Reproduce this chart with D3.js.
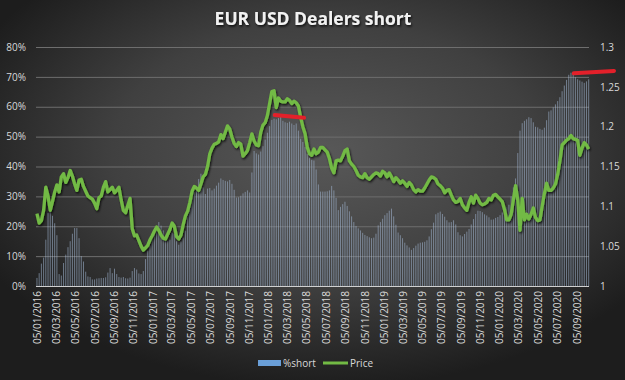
<!DOCTYPE html>
<html>
<head>
<meta charset="utf-8">
<script src="https://cdn.jsdelivr.net/npm/d3@7"></script>
<style>
  html, body { margin: 0; padding: 0; background: #262626; }
  svg { display: block; }
  text { font-family: "Open Sans", "Noto Sans", sans-serif; }
</style>
</head>
<body>
<div id="chart"></div>
<script>
// Weekly COT readings, first one on Tuesday 05/01/2016
const firstWeek = '2016-01-05';

// Dealers short, in % of open interest
const pctShort = [
  2.7, 4.3, 7.5, 9.5, 15.5, 24.4, 24.9, 23.5, 21, 17,
  4, 3.5, 7.7, 10.5, 13, 15, 17.5, 19.4, 19.4, 16,
  10, 8.2, 4.8, 3.2, 3, 2.2, 2.2, 2.5, 2.6, 2.7,
  2.7, 2.9, 4.5, 6, 4.3, 5.8, 4, 3, 2.8, 3,
  2.6, 2.5, 2.8, 5, 6, 5.5, 4.2, 4, 5, 9,
  11.8, 13.5, 15.8, 17.8, 19.8, 21.4, 20.2, 18.6, 16.8, 15,
  15.5, 17.8, 17.5, 15, 13.8, 14.9, 16.2, 18.5, 24.6, 26.5,
  29.6, 31.6, 33.5, 35.8, 37.6, 33, 30.8, 32.6, 32.8, 32,
  32.6, 33.6, 34.6, 36, 35.5, 35.2, 35, 35.5, 34.2, 32.2,
  29.6, 29.7, 30.2, 31, 31.5, 32, 31.3, 38, 45.2, 44.4,
  44, 45, 46.8, 49, 51.3, 53.5, 55.6, 56, 55.8, 56.2,
  56.8, 55.3, 54.8, 54.6, 55, 54.4, 53.9, 54.4, 52, 49.3,
  48.2, 46.5, 44.2, 42.9, 42.2, 42, 39, 34, 31.6, 31.6,
  31.6, 31.7, 32, 33.5, 32, 29.5, 25.4, 26.5, 27.4, 28.2,
  26.8, 25, 23.3, 21.4, 20.1, 19.3, 18.6, 17.8, 17.1, 16.7,
  16.3, 16, 16.2, 17.5, 20.3, 21.4, 22.5, 23.7, 24.4, 25.2,
  25.9, 23.3, 20.5, 17.9, 17, 16, 14.5, 13.6, 12.9, 12.1,
  12.7, 13.5, 14.2, 14.5, 14.6, 14.8, 15.3, 16.6, 19, 21.2,
  24, 24.5, 24.9, 24.1, 23.2, 22, 21.3, 21.4, 22, 20.6,
  18, 17, 16.6, 17.4, 18.2, 19.1, 20.6, 22.4, 24.1, 25.2,
  25.1, 24.7, 24, 23.6, 23, 22.2, 22.3, 22.8, 23.1, 23.7,
  24.6, 25.8, 26.3, 27.2, 30, 33, 36, 44.5, 52, 54.5,
  55.3, 55.8, 56.5, 56.2, 54.8, 53.3, 53.1, 52.6, 52.3, 53,
  55.5, 58.4, 58.8, 59.8, 60.8, 61.9, 63.2, 65.2, 67.1, 69,
  70.7, 71.4, 71, 69.9, 69.2, 68.8, 68.4, 68, 68.5, 69.2
];

// EUR/USD price on the same weeks
const price = [
  1.091, 1.079, 1.082, 1.095, 1.124, 1.113, 1.095, 1.106, 1.118, 1.127,
  1.118, 1.137, 1.141, 1.130, 1.136, 1.145, 1.138, 1.128, 1.120, 1.133,
  1.134, 1.125, 1.119, 1.113, 1.111, 1.109, 1.104, 1.097, 1.111, 1.113,
  1.124, 1.131, 1.118, 1.121, 1.124, 1.117, 1.120, 1.124, 1.108, 1.095,
  1.092, 1.101, 1.110, 1.072, 1.063, 1.064, 1.057, 1.050, 1.045, 1.048,
  1.051, 1.058, 1.063, 1.069, 1.074, 1.070, 1.064, 1.060, 1.059, 1.065,
  1.071, 1.079, 1.075, 1.062, 1.059, 1.064, 1.077, 1.088, 1.094, 1.105,
  1.119, 1.125, 1.123, 1.120, 1.128, 1.137, 1.140, 1.150, 1.166, 1.173,
  1.178, 1.179, 1.181, 1.190, 1.185, 1.193, 1.201, 1.197, 1.187, 1.179,
  1.175, 1.180, 1.178, 1.163, 1.166, 1.170, 1.180, 1.191, 1.182, 1.177,
  1.176, 1.193, 1.202, 1.205, 1.214, 1.229, 1.244, 1.245, 1.224, 1.236,
  1.232, 1.231, 1.231, 1.235, 1.233, 1.229, 1.232, 1.230, 1.226, 1.212,
  1.200, 1.191, 1.174, 1.166, 1.164, 1.172, 1.166, 1.168, 1.174, 1.174,
  1.171, 1.168, 1.160, 1.148, 1.142, 1.157, 1.158, 1.157, 1.163, 1.170,
  1.172, 1.157, 1.153, 1.150, 1.145, 1.139, 1.137, 1.136, 1.141, 1.136,
  1.134, 1.137, 1.140, 1.142, 1.141, 1.138, 1.144, 1.142, 1.137, 1.142,
  1.137, 1.131, 1.136, 1.133, 1.129, 1.132, 1.129, 1.125, 1.130, 1.127,
  1.121, 1.118, 1.121, 1.119, 1.119, 1.123, 1.128, 1.133, 1.137, 1.136,
  1.134, 1.128, 1.126, 1.123, 1.117, 1.120, 1.121, 1.114, 1.108, 1.105,
  1.106, 1.110, 1.102, 1.098, 1.095, 1.105, 1.112, 1.104, 1.114, 1.110,
  1.104, 1.102, 1.103, 1.105, 1.110, 1.108, 1.114, 1.115, 1.112, 1.109,
  1.106, 1.096, 1.083, 1.083, 1.090, 1.108, 1.126, 1.108, 1.070, 1.110,
  1.083, 1.090, 1.084, 1.090, 1.098, 1.086, 1.082, 1.083, 1.100, 1.116,
  1.129, 1.120, 1.120, 1.123, 1.128, 1.140, 1.157, 1.177, 1.180, 1.183,
  1.185, 1.189, 1.185, 1.184, 1.183, 1.164, 1.173, 1.180, 1.177, 1.172
];

// Axis ticks
const pctTicks = [0, 10, 20, 30, 40, 50, 60, 70, 80];
const priceTicks = [1, 1.05, 1.1, 1.15, 1.2, 1.25, 1.3];
const dateTicks = [
  '2016-01-05', '2016-03-05', '2016-05-05', '2016-07-05', '2016-09-05', '2016-11-05',
  '2017-01-05', '2017-03-05', '2017-05-05', '2017-07-05', '2017-09-05', '2017-11-05',
  '2018-01-05', '2018-03-05', '2018-05-05', '2018-07-05', '2018-09-05', '2018-11-05',
  '2019-01-05', '2019-03-05', '2019-05-05', '2019-07-05', '2019-09-05', '2019-11-05',
  '2020-01-05', '2020-03-05', '2020-05-05', '2020-07-05', '2020-09-05'
];

// Hand drawn red marks, in chart units (start/end date, % level)
const redMarks = [
  [['2018-01-25', 57.2], ['2018-04-28', 56.3]],
  [['2020-08-27', 71.2], ['2021-01-01', 72.0]]
];

const parseDate = d3.timeParse('%Y-%m-%d');
const start = parseDate(firstWeek);
const weeks = pctShort.map((v, i) => ({
  date: d3.timeDay.offset(start, 7 * i),
  pct: v,
  price: price[i]
}));

const W = 625, H = 380;
const margin = {top: 47, right: 37, bottom: 94, left: 36};

const svg = d3.select('#chart').append('svg')
  .attr('width', W)
  .attr('height', H);

const defs = svg.append('defs');
const bg = defs.append('radialGradient')
  .attr('id', 'bg')
  .attr('cx', '52%').attr('cy', '40%').attr('r', '62%');
bg.append('stop').attr('offset', '0%').attr('stop-color', '#585858');
bg.append('stop').attr('offset', '55%').attr('stop-color', '#404040');
bg.append('stop').attr('offset', '100%').attr('stop-color', '#1d1d1d');

const shadow = defs.append('filter').attr('id', 'shadow')
  .attr('x', '-10%').attr('y', '-10%').attr('width', '120%').attr('height', '130%');
shadow.append('feDropShadow')
  .attr('dx', 1).attr('dy', 1.5).attr('stdDeviation', 1.2)
  .attr('flood-color', '#000').attr('flood-opacity', 0.8);

svg.append('rect')
  .attr('width', W).attr('height', H)
  .attr('fill', 'url(#bg)');

const x = d3.scaleTime()
  .domain([parseDate('2016-01-02'), parseDate('2020-10-14')])
  .range([margin.left, W - margin.right + 1]);

const y = d3.scaleLinear()
  .domain([0, 80])
  .range([H - margin.bottom, margin.top]);

const yPrice = d3.scaleLinear()
  .domain([1, 1.3])
  .range([H - margin.bottom, margin.top]);

// gridlines
svg.append('g')
  .selectAll('line')
  .data(pctTicks.slice(1))
  .enter().append('line')
  .attr('x1', margin.left)
  .attr('x2', W - margin.right + 1)
  .attr('y1', d => y(d) + 0.5)
  .attr('y2', d => y(d) + 0.5)
  .attr('stroke', '#6e6e6e')
  .attr('stroke-width', 1);

// bars
const barW = 1;
svg.append('g')
  .selectAll('rect')
  .data(weeks)
  .enter().append('rect')
  .attr('x', d => x(d.date) - barW / 2)
  .attr('width', barW)
  .attr('y', d => y(d.pct))
  .attr('height', d => y(0) - y(d.pct))
  .attr('fill', '#a6bbd9')
  .attr('opacity', 0.55);

// baseline
svg.append('line')
  .attr('x1', margin.left)
  .attr('x2', W - margin.right + 1)
  .attr('y1', y(0) + 0.5)
  .attr('y2', y(0) + 0.5)
  .attr('stroke', '#d0d0d0')
  .attr('stroke-width', 1);

// price line
const line = d3.line()
  .x(d => x(d.date))
  .y(d => yPrice(d.price));

svg.append('path')
  .datum(weeks)
  .attr('d', line)
  .attr('fill', 'none')
  .attr('stroke', '#72ba44')
  .attr('stroke-width', 3.3)
  .attr('stroke-linejoin', 'round')
  .attr('filter', 'url(#shadow)');

// red marks
const markLine = d3.line()
  .x(d => x(parseDate(d[0])))
  .y(d => y(d[1]));

svg.append('g')
  .selectAll('path')
  .data(redMarks)
  .enter().append('path')
  .attr('d', markLine)
  .attr('fill', 'none')
  .attr('stroke', '#e3202a')
  .attr('stroke-width', 4)
  .attr('stroke-linecap', 'round');

// axes
const axisColor = '#d9d9d9';

const yAxis = svg.append('g')
  .attr('transform', 'translate(' + (margin.left - 7) + ',0)')
  .call(d3.axisLeft(y).tickValues(pctTicks).tickSize(0).tickFormat(d => d + '%'));

const yAxisR = svg.append('g')
  .attr('transform', 'translate(' + (W - margin.right + 9) + ',0)')
  .call(d3.axisRight(yPrice).tickValues(priceTicks).tickSize(0)
    .tickFormat(d => String(+d.toFixed(2))));

const xAxis = svg.append('g')
  .attr('transform', 'translate(0,' + (H - margin.bottom + 5) + ')')
  .call(d3.axisBottom(x).tickValues(dateTicks.map(parseDate)).tickSize(0)
    .tickFormat(d3.timeFormat('%d/%m/%Y')));

xAxis.selectAll('text')
  .attr('transform', 'rotate(-90)')
  .attr('text-anchor', 'end')
  .attr('x', 0)
  .attr('y', 0)
  .attr('dx', 0)
  .attr('dy', '0.35em');

[yAxis, yAxisR, xAxis].forEach(a => {
  a.select('.domain').remove();
  a.selectAll('text')
    .attr('fill', axisColor)
    .style('font-size', '10px')
    .style('font-family', '"Open Sans", sans-serif');
});

// title
svg.append('text')
  .attr('x', 313)
  .attr('y', 25)
  .attr('text-anchor', 'middle')
  .attr('fill', '#f2f2f2')
  .attr('filter', 'url(#shadow)')
  .style('font-size', '17.5px')
  .style('font-weight', 'bold')
  .text('EUR USD Dealers short');

// legend
const legend = svg.append('g')
  .attr('transform', 'translate(0,363)');

legend.append('rect')
  .attr('x', 258).attr('y', -3)
  .attr('width', 23).attr('height', 6)
  .attr('fill', '#6a9fd8');
legend.append('text')
  .attr('x', 283).attr('y', 0).attr('dy', '0.35em')
  .attr('fill', axisColor)
  .style('font-size', '10px')
  .text('%short');

legend.append('line')
  .attr('x1', 323).attr('x2', 348)
  .attr('y1', 0).attr('y2', 0)
  .attr('stroke', '#72ba44')
  .attr('stroke-width', 3);
legend.append('text')
  .attr('x', 350).attr('y', 0).attr('dy', '0.35em')
  .attr('fill', axisColor)
  .style('font-size', '10px')
  .text('Price');
</script>
</body>
</html>
